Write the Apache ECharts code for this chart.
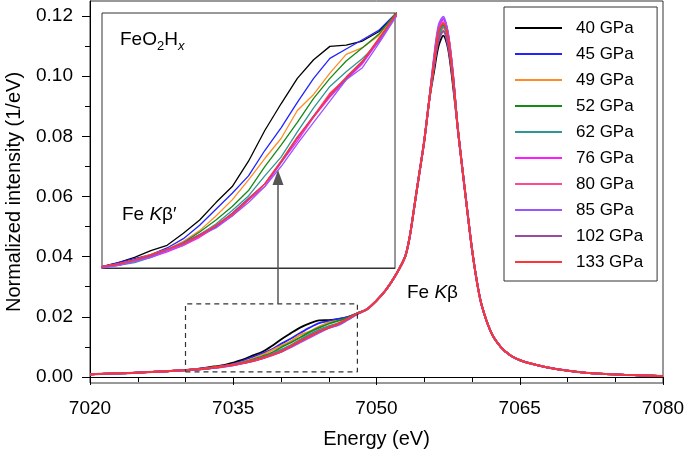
<!DOCTYPE html>
<html><head><meta charset="utf-8">
<script src="https://cdn.jsdelivr.net/npm/echarts@6/dist/echarts.min.js"></script>
<style>html,body{margin:0;padding:0;background:#fff}#c{width:685px;height:449px}</style>
</head><body><div id="c"></div>
<script>
const FONT = '"Liberation Sans", Arial, Helvetica, sans-serif';

// ---------------- DATA ----------------
const pressures = ['40 GPa','45 GPa','49 GPa','52 GPa','62 GPa','76 GPa','80 GPa','85 GPa','102 GPa','133 GPa'];
const colors = ['#000000','#2323ff','#ff8c26','#158a15','#2f9696','#ff1aff','#ff4a8f','#9a55ff','#9b4a9e','#ff3535'];

// energy segments (eV)
const energyLeft     = [7020, 7022, 7024, 7026, 7028];
const energyShoulder = [7030, 7031, 7032, 7033, 7034, 7035, 7036, 7037, 7038, 7039, 7040, 7041, 7042, 7043, 7044, 7045, 7046, 7047, 7048];
const energyMid      = [7049, 7050, 7051, 7052, 7053, 7053.5, 7054, 7054.5, 7055, 7055.5];
const energyPeak     = [7056, 7056.5, 7057, 7057.5, 7058];
const energyRight    = [7058.5, 7059, 7059.5, 7060, 7060.5, 7061, 7062, 7063, 7064, 7065, 7066, 7067, 7068, 7070, 7072, 7074, 7076, 7078, 7080];

// common intensities (1/eV), shared by all pressures
const intensityLeft  = [0.0009, 0.0011, 0.0013, 0.0016, 0.0019];
const intensityMid   = [0.0225, 0.0254, 0.0290, 0.0338, 0.0400, 0.0470, 0.0575, 0.0680, 0.0785, 0.0915];
const intensityRight = [0.0830, 0.0690, 0.0555, 0.0425, 0.0320, 0.0240, 0.0148, 0.0100, 0.0072, 0.0056, 0.0046, 0.0038, 0.0031, 0.0021, 0.0014, 0.0010, 0.0007, 0.0005, 0.0003];

// K-beta' shoulder region, per pressure
const shoulder40  = [0.0023,0.0026,0.0030,0.0035,0.0039,0.0048,0.0058,0.0071,0.0083,0.0102,0.0125,0.0145,0.0164,0.0178,0.0188,0.0189,0.0192,0.0199,0.0212];
const shoulder45  = [0.0023,0.0026,0.0029,0.0032,0.0037,0.0044,0.0054,0.0066,0.0078,0.0091,0.0110,0.0127,0.0146,0.0164,0.0179,0.0186,0.0193,0.0200,0.0212];
const shoulder49  = [0.0023,0.0025,0.0028,0.0032,0.0036,0.0042,0.0050,0.0061,0.0073,0.0088,0.0104,0.0119,0.0140,0.0152,0.0168,0.0182,0.0187,0.0196,0.0212];
const shoulder52  = [0.0023,0.0024,0.0027,0.0031,0.0035,0.0041,0.0049,0.0058,0.0068,0.0080,0.0098,0.0114,0.0131,0.0149,0.0164,0.0177,0.0187,0.0197,0.0212];
const shoulder62  = [0.0023,0.0024,0.0026,0.0030,0.0035,0.0040,0.0047,0.0055,0.0065,0.0076,0.0091,0.0105,0.0124,0.0142,0.0158,0.0169,0.0179,0.0191,0.0210];
const shoulder76  = [0.0023,0.0024,0.0027,0.0030,0.0034,0.0039,0.0045,0.0053,0.0061,0.0073,0.0083,0.0101,0.0117,0.0135,0.0150,0.0163,0.0175,0.0192,0.0210];
const shoulder80  = [0.0023,0.0025,0.0028,0.0031,0.0035,0.0040,0.0047,0.0054,0.0063,0.0074,0.0085,0.0102,0.0120,0.0136,0.0153,0.0164,0.0177,0.0193,0.0210];
const shoulder85  = [0.0022,0.0024,0.0027,0.0030,0.0035,0.0039,0.0046,0.0052,0.0061,0.0071,0.0083,0.0098,0.0115,0.0131,0.0147,0.0163,0.0172,0.0190,0.0209];
const shoulder102 = [0.0023,0.0025,0.0028,0.0031,0.0036,0.0041,0.0047,0.0053,0.0063,0.0074,0.0085,0.0101,0.0119,0.0136,0.0151,0.0164,0.0176,0.0193,0.0211];
const shoulder133 = [0.0023,0.0025,0.0028,0.0032,0.0036,0.0040,0.0046,0.0054,0.0062,0.0073,0.0085,0.0102,0.0120,0.0135,0.0152,0.0165,0.0177,0.0194,0.0211];

// K-beta peak top, per pressure
const peak40  = [0.101, 0.110, 0.1135, 0.109, 0.097];
const peak45  = [0.105, 0.116, 0.1190, 0.114, 0.101];
const peak49  = [0.103, 0.113, 0.1160, 0.111, 0.099];
const peak52  = [0.104, 0.114, 0.1170, 0.112, 0.100];
const peak62  = [0.103, 0.113, 0.1165, 0.112, 0.100];
const peak76  = [0.105, 0.116, 0.1190, 0.114, 0.101];
const peak80  = [0.104, 0.115, 0.1180, 0.113, 0.100];
const peak85  = [0.106, 0.117, 0.1198, 0.114, 0.101];
const peak102 = [0.103, 0.112, 0.1150, 0.110, 0.099];
const peak133 = [0.104, 0.115, 0.1175, 0.113, 0.100];

const shoulders = [shoulder40, shoulder45, shoulder49, shoulder52, shoulder62, shoulder76, shoulder80, shoulder85, shoulder102, shoulder133];
const peaks = [peak40, peak45, peak49, peak52, peak62, peak76, peak80, peak85, peak102, peak133];

// axis ticks
const yLabelValues = [0, 0.02, 0.04, 0.06, 0.08, 0.10, 0.12];
const yMinorValues = [0.01, 0.03, 0.05, 0.07, 0.09, 0.11];
const insetTicks = [7035, 7040, 7045];
const zoomBox = {x0: 7030, x1: 7048, y0: 0.0017, y1: 0.0243};

// ---------------- BUILD ----------------
const energies = [].concat(energyLeft, energyShoulder, energyMid, energyPeak, energyRight);
function seriesValues(i) {
  return [].concat(intensityLeft, shoulders[i], intensityMid, peaks[i], intensityRight);
}
const series = [];
pressures.forEach((p, i) => {
  const vals = seriesValues(i);
  const pts = energies.map((e, k) => [e, vals[k]]);
  series.push({
    name: p, type: 'line', xAxisIndex: 0, yAxisIndex: 0, data: pts,
    symbol: 'none', smooth: 0.3, color: colors[i],
    lineStyle: {width: i === 8 ? 2.2 : 1.8, color: colors[i]}, z: 2 + i * 0.01, silent: true
  });
});
pressures.forEach((p, i) => {
  const vals = seriesValues(i);
  const pts = energies.map((e, k) => [e, vals[k]]).filter(d => d[0] >= 7028 && d[0] <= 7049);
  series.push({
    name: p, type: 'line', xAxisIndex: 1, yAxisIndex: 2, data: pts,
    symbol: 'none', smooth: false, clip: true, color: colors[i],
    lineStyle: {width: 1.3, color: colors[i]}, z: 3, silent: true
  });
});
series.push({
  name: 'zoom', type: 'line', xAxisIndex: 0, yAxisIndex: 0, symbol: 'none', silent: true, z: 4,
  data: [[zoomBox.x0, zoomBox.y0],[zoomBox.x1, zoomBox.y0],[zoomBox.x1, zoomBox.y1],[zoomBox.x0, zoomBox.y1],[zoomBox.x0, zoomBox.y0]],
  lineStyle: {color: '#333', width: 1.2, type: [5, 4]}
});

// text helper
const cv = document.createElement('canvas').getContext('2d');
function textRun(pieces, x, y) {
  const out = [];
  let cx = x;
  pieces.forEach(pc => {
    const font = (pc.italic ? 'italic ' : '') + pc.size + 'px ' + FONT;
    cv.font = font;
    const w = cv.measureText(pc.t).width;
    out.push({type: 'text', x: cx, y: y + (pc.dy || 0), z: 100,
      style: {text: pc.t, fontSize: pc.size, fontFamily: FONT, fontStyle: pc.italic ? 'italic' : 'normal',
              fill: '#000', align: 'left', verticalAlign: 'middle'}});
    cx += w;
  });
  return out;
}

const graphics = [].concat(
  [{type: 'line', z: 100, shape: {x1: 278, y1: 304, x2: 278, y2: 183}, style: {stroke: '#555', lineWidth: 1.5}},
   {type: 'polygon', z: 100, shape: {points: [[278, 170], [272.5, 185], [283.5, 185]]}, style: {fill: '#555'}}],
  textRun([{t: 'FeO', size: 19}, {t: '2', size: 13, dy: 6}, {t: 'H', size: 19}, {t: 'x', size: 13, dy: 6, italic: true}], 120, 40),
  textRun([{t: 'Fe ', size: 19}, {t: 'K', size: 19, italic: true}, {t: 'β′', size: 19}], 122, 215),
  textRun([{t: 'Fe ', size: 19}, {t: 'K', size: 19, italic: true}, {t: 'β', size: 19}], 407, 293)
);

const axisBlack = {lineStyle: {color: '#000', width: 1}};
const option = {
  animation: false,
  backgroundColor: '#fff',
  grid: [
    {left: 90, top: 1, right: 22, bottom: 66, show: true, borderColor: '#333', borderWidth: 1, backgroundColor: 'transparent',
     containLabel: false, outerBoundsMode: 'none'},
    {left: 102, top: 13, width: 293, height: 255, show: true, borderColor: '#333', borderWidth: 1, backgroundColor: '#fff', z: 3,
     containLabel: false, outerBoundsMode: 'none'}
  ],
  xAxis: [
    {type: 'value', gridIndex: 0, min: 7020, max: 7080, interval: 15,
     name: 'Energy (eV)', nameLocation: 'middle', nameGap: 46,
     nameTextStyle: {fontSize: 20, fontFamily: FONT, color: '#000'},
     axisLine: axisBlack, axisTick: {show: true, length: 8, lineStyle: {color: '#000'}},
     minorTick: {show: true, splitNumber: 3, length: 5, lineStyle: {color: '#000'}},
     axisLabel: {fontSize: 19, fontFamily: FONT, color: '#000', margin: 16, formatter: v => String(v)},
     splitLine: {show: false}, minorSplitLine: {show: false}},
    {type: 'value', gridIndex: 1, min: 7030, max: 7048,
     axisLine: {lineStyle: {color: '#333'}},
     axisTick: {show: true, inside: true, length: 7, customValues: insetTicks, lineStyle: {color: '#333'}},
     axisLabel: {show: false}, splitLine: {show: false}}
  ],
  yAxis: [
    {type: 'value', gridIndex: 0, min: -0.002, max: 0.125, position: 'left',
     name: 'Normalized intensity (1/eV)', nameLocation: 'middle', nameGap: 66,
     nameTextStyle: {fontSize: 20, fontFamily: FONT, color: '#000'},
     axisLine: {show: true, lineStyle: {color: '#000'}},
     axisTick: {show: true, length: 8, customValues: yLabelValues, lineStyle: {color: '#000'}},
     axisLabel: {fontSize: 19, fontFamily: FONT, color: '#000', margin: 17, customValues: yLabelValues,
                 formatter: v => v.toFixed(2)},
     splitLine: {show: false}},
    {type: 'value', gridIndex: 0, min: -0.002, max: 0.125, position: 'left', offset: 0,
     axisLine: {show: false},
     axisTick: {show: true, length: 5, customValues: yMinorValues, lineStyle: {color: '#000'}},
     axisLabel: {show: false}, splitLine: {show: false}},
    {type: 'value', gridIndex: 1, min: 0.0022, max: 0.0213,
     axisLine: {show: false}, axisTick: {show: false}, axisLabel: {show: false}, splitLine: {show: false}}
  ],
  legend: {
    orient: 'vertical', left: 504, top: 7, data: pressures, selectedMode: false,
    itemWidth: 47, itemHeight: 2, itemGap: 6, icon: 'rect',
    padding: [11, 14, 9, 11], borderColor: '#333', borderWidth: 1, backgroundColor: '#fff',
    textStyle: {fontSize: 17, fontFamily: FONT, color: '#000', lineHeight: 20, padding: [0, 0, 0, 9]}
  },
  graphic: graphics,
  series: series
};
const chart = echarts.init(document.getElementById('c'));
chart.setOption(option);
</script></body></html>
